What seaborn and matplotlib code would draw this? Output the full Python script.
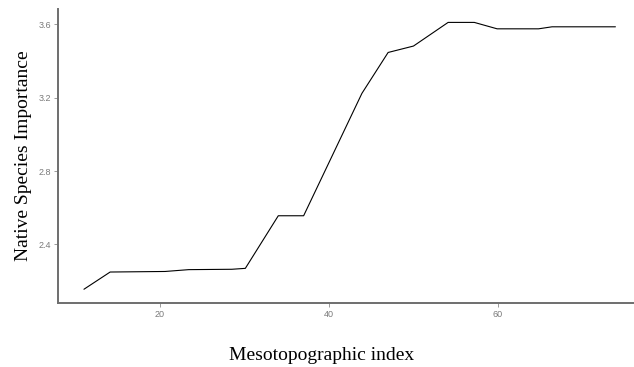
import matplotlib
matplotlib.use("Agg")
import matplotlib.pyplot as plt
import seaborn as sns
import pandas as pd

# Partial dependence of native species importance on mesotopographic index
meso_index = [11.0, 14.1, 20.6, 23.4, 28.5, 30.1, 34.0, 37.0, 43.9, 47.0,
              50.0, 54.1, 57.2, 59.9, 64.8, 66.4, 73.9]
importance = [2.155, 2.249, 2.252, 2.262, 2.264, 2.269, 2.556, 2.556, 3.224, 3.447,
              3.482, 3.611, 3.611, 3.576, 3.576, 3.587, 3.587]
x_ticks = [20, 40, 60]
y_ticks = [2.4, 2.8, 3.2, 3.6]

df = pd.DataFrame({"meso": meso_index, "imp": importance})

sns.set_style("white")
plt.rcParams["font.family"] = ["Liberation Sans", "DejaVu Sans"]

fig = plt.figure(figsize=(6.34, 3.67), dpi=100)
ax = fig.add_axes([0.0915, 0.1744, 0.9085, 0.801])

sns.lineplot(data=df, x="meso", y="imp", ax=ax, color="black", linewidth=0.8)

ax.set_xlim(7.93, 76.1)
ax.set_ylim(2.08, 3.684)
ax.set_xticks(x_ticks)
ax.set_xticklabels([str(t) for t in x_ticks])
ax.set_yticks(y_ticks)
ax.set_yticklabels([f"{t:.1f}" for t in y_ticks])

for side in ("top", "right"):
    ax.spines[side].set_visible(False)
for side in ("left", "bottom"):
    ax.spines[side].set_color("#6e6e6e")
    ax.spines[side].set_linewidth(1.4)

ax.tick_params(axis="both", which="both", length=3, width=0.6, color="#8a8a8a",
               labelcolor="#7a7a7a", labelsize=6.5, pad=2,
               bottom=True, left=True)

ax.set_xlabel("Mesotopographic index", family="Liberation Serif", fontsize=14,
              color="black", va="center")
ax.set_ylabel("Native Species Importance", family="Liberation Serif", fontsize=14,
              color="black", va="center")
ax.xaxis.set_label_coords(0.457, -0.177)
ax.yaxis.set_label_coords(-0.06, 0.5)

fig.savefig("out.png", dpi=100)
